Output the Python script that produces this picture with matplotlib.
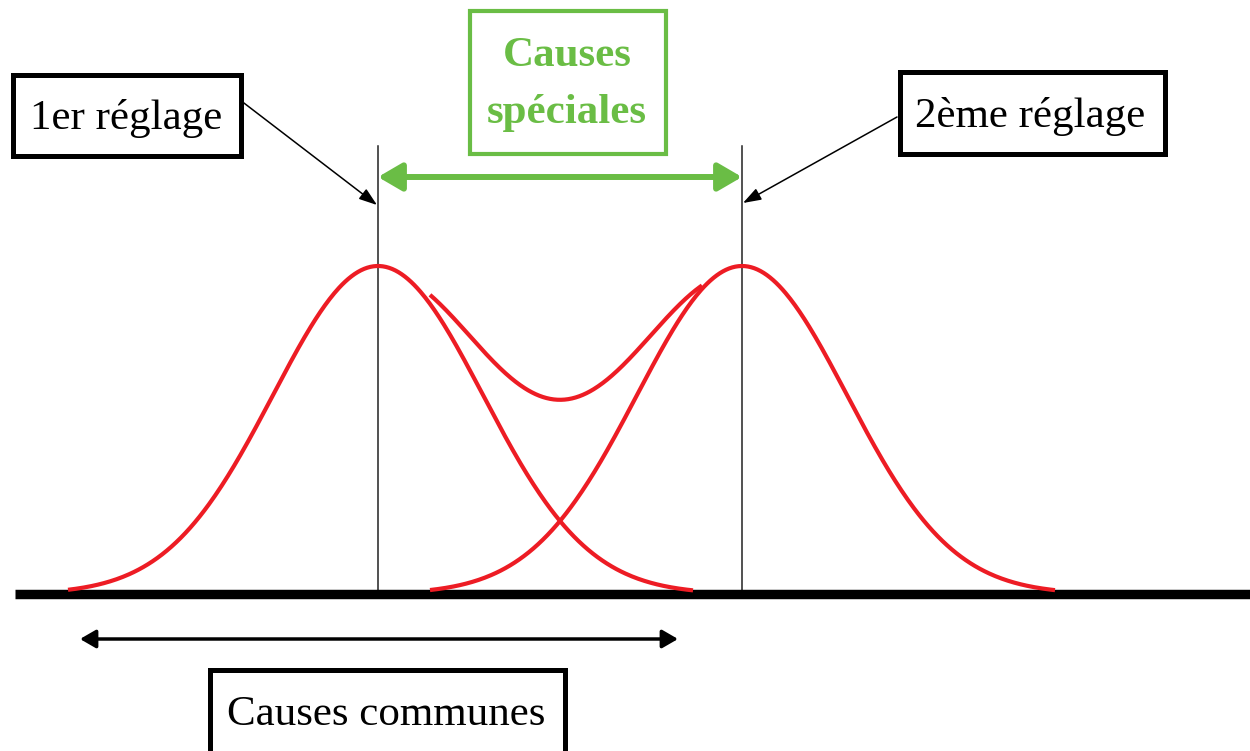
import numpy as np
import matplotlib
matplotlib.use("Agg")
import matplotlib.pyplot as plt
from matplotlib.patches import Rectangle

# ---- data (x in drawing units, y = height above the baseline) ----
means = [378, 742]            # 1er réglage, 2ème réglage
sigma = 105
peak = 328
half_span = [(-310, 315), (-312, 313)]
mix_sigma = 118
mix_peak = 319
mix_range = (430, 702)

labels_setting = ["1er réglage", "2ème réglage"]
label_special = ["Causes", "spéciales"]
label_common = "Causes communes"

RED = "#ED1C24"
GREEN = "#6ABD45"

fig = plt.figure(figsize=(12.5, 7.51), dpi=100)
ax = fig.add_axes([0, 0, 1, 1])
ax.set_xlim(0, 1250)
ax.set_ylim(-157, 594)
ax.axis("off")

def gauss(x, m, s, a):
    return a * np.exp(-(x - m) ** 2 / (2 * s ** 2))

# baseline
ax.plot([15, 1250], [0, 0], color="black", lw=6.8, solid_capstyle="butt", zorder=3)

# vertical mean lines
for m in means:
    ax.plot([m, m], [0, 448], color="#222222", lw=1.1, zorder=2)

# individual curves
for m, (a, b) in zip(means, half_span):
    x = np.linspace(m + a, m + b, 400)
    ax.plot(x, gauss(x, m, sigma, peak), color=RED, lw=3.0, zorder=4,
            solid_capstyle="butt")

# combined curve
x = np.linspace(mix_range[0], mix_range[1], 300)
y = gauss(x, means[0], mix_sigma, mix_peak) + gauss(x, means[1], mix_sigma, mix_peak)
ax.plot(x, y, color=RED, lw=3.0, zorder=4, solid_capstyle="butt")

# green double arrow (causes spéciales)
ax.annotate("", xy=(means[1], 417), xytext=(means[0], 417),
            arrowprops=dict(arrowstyle="<|-|>,head_length=0.72,head_width=0.42",
                            mutation_scale=20, color=GREEN, lw=4.3,
                            shrinkA=0, shrinkB=0), zorder=5)

# black double arrow (causes communes)
ax.annotate("", xy=(678, -45), xytext=(80, -45),
            arrowprops=dict(arrowstyle="<|-|>,head_length=0.95,head_width=0.55",
                            mutation_scale=10, color="black", lw=2.5,
                            shrinkA=0, shrinkB=0), zorder=5)

# annotation arrows from label boxes
ax.annotate("", xy=(377, 389), xytext=(240, 494),
            arrowprops=dict(arrowstyle="-|>,head_length=1.1,head_width=0.38",
                            mutation_scale=10, color="black", lw=1.1,
                            shrinkA=0, shrinkB=0), zorder=5)
ax.annotate("", xy=(743, 391), xytext=(897, 477),
            arrowprops=dict(arrowstyle="-|>,head_length=1.1,head_width=0.38",
                            mutation_scale=10, color="black", lw=1.1,
                            shrinkA=0, shrinkB=0), zorder=5)

# boxes
ax.add_patch(Rectangle((12.5, 438.5), 228, 81, fill=False, ec="black", lw=3.6, zorder=6))
ax.add_patch(Rectangle((899.5, 440.5), 265, 82, fill=False, ec="black", lw=3.6, zorder=6))
ax.add_patch(Rectangle((470, 440), 196, 143, fill=False, ec=GREEN, lw=3.0, zorder=6))
ax.add_patch(Rectangle((209.5, -175), 355, 99.5, fill=False, ec="black", lw=3.6,
                       zorder=6, clip_on=False))

serif = ["Liberation Serif", "DejaVu Serif"]
ax.text(126, 465, labels_setting[0], ha="center", va="baseline",
        fontsize=31, family=serif, zorder=7)
ax.text(1030, 467, labels_setting[1], ha="center", va="baseline",
        fontsize=31, family=serif, zorder=7)
ax.text(567, 528, label_special[0], ha="center", va="baseline",
        fontsize=31, family=serif, fontweight="bold", color=GREEN, zorder=7)
ax.text(567, 471, label_special[1], ha="center", va="baseline",
        fontsize=31, family=serif, fontweight="bold", color=GREEN, zorder=7)
ax.text(386, -131, label_common, ha="center", va="baseline",
        fontsize=31, family=serif, zorder=7)

fig.savefig("out.png", dpi=100)
